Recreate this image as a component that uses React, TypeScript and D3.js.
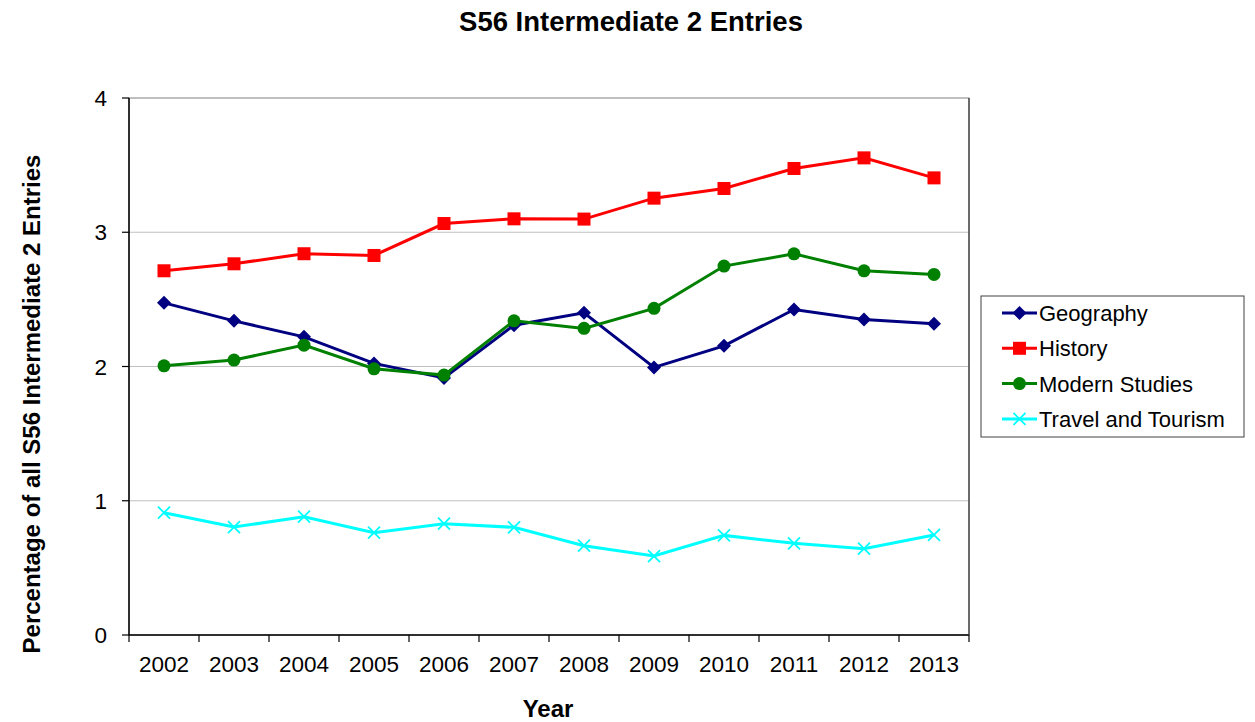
import React from "react";
import * as d3 from "d3";

const years = ["2002","2003","2004","2005","2006","2007","2008","2009","2010","2011","2012","2013"];
const geography = [2.474, 2.34, 2.221, 2.023, 1.915, 2.308, 2.4, 1.993, 2.154, 2.425, 2.35, 2.318];
const history = [2.713, 2.765, 2.84, 2.827, 3.065, 3.1, 3.098, 3.254, 3.326, 3.475, 3.554, 3.405];
const modernStudies = [2.005, 2.048, 2.159, 1.983, 1.936, 2.34, 2.284, 2.433, 2.748, 2.839, 2.713, 2.686];
const travelTourism = [0.911, 0.804, 0.881, 0.762, 0.829, 0.802, 0.665, 0.588, 0.742, 0.683, 0.643, 0.745];
const yTicks = [0, 1, 2, 3, 4];

const seriesNames = ["Geography", "History", "Modern Studies", "Travel and Tourism"];
const seriesColors = ["#000080", "#ff0000", "#008000", "#00ffff"];
const seriesMarkers = ["diamond", "square", "circle", "x"];
const seriesData = [geography, history, modernStudies, travelTourism];

const W = 1255, H = 722;
const L = 129, R = 969, T = 98, B = 635;
const font = "'Liberation Sans', Arial, sans-serif";

function Marker({ type, x, y, color }: { type: string; x: number; y: number; color: string }) {
  if (type === "diamond") {
    const s = 7;
    return <path d={`M${x},${y - s}L${x + s},${y}L${x},${y + s}L${x - s},${y}Z`} fill={color} />;
  }
  if (type === "square") {
    return <rect x={x - 6.5} y={y - 6.5} width={13} height={13} fill={color} />;
  }
  if (type === "circle") {
    return <circle cx={x} cy={y} r={6.5} fill={color} />;
  }
  const s = 6;
  return (
    <path d={`M${x - s},${y - s}L${x + s},${y + s}M${x - s},${y + s}L${x + s},${y - s}`} stroke={color} strokeWidth={1.8} fill="none" />
  );
}

export default function App() {
  const x = d3.scaleBand<string>().domain(years).range([L, R]);
  const y = d3.scaleLinear().domain([0, 4]).range([B, T]);
  const cx = (yr: string) => (x(yr) as number) + x.bandwidth() / 2;
  const line = d3.line<number>().x((_, i) => cx(years[i])).y((d) => y(d));

  const tickXs = years.map((yr) => x(yr) as number).concat([R]);

  return (
    <svg width={W} height={H} style={{ position: "absolute", left: 0, top: 0, background: "#fff" }} fontFamily={font}>
      <rect x={0} y={0} width={W} height={H} fill="#fff" />
      <text x={631} y={31} textAnchor="middle" fontSize={27.5} fontWeight="bold">S56 Intermediate 2 Entries</text>

      {yTicks.filter((t) => t > 0 && t < 4).map((t) => (
        <line key={t} x1={L} x2={R} y1={y(t)} y2={y(t)} stroke="#c0c0c0" strokeWidth={1.2} />
      ))}
      <rect x={L} y={T} width={R - L} height={B - T} fill="none" stroke="#808080" strokeWidth={1} />
      <line x1={L} x2={L} y1={T} y2={B} stroke="#000" strokeWidth={1.5} />
      <line x1={L} x2={R} y1={B} y2={B} stroke="#000" strokeWidth={1.5} />
      <line x1={R} x2={R} y1={T} y2={B} stroke="#333" strokeWidth={1.2} />

      {yTicks.map((t) => (
        <g key={t}>
          <line x1={L - 7} x2={L} y1={y(t)} y2={y(t)} stroke="#000" strokeWidth={1.2} />
          <text x={107} y={y(t) + 8} textAnchor="end" fontSize={22.5}>{t}</text>
        </g>
      ))}
      {tickXs.map((tx, i) => (
        <line key={i} x1={tx} x2={tx} y1={B} y2={B + 7} stroke="#000" strokeWidth={1.2} />
      ))}
      {years.map((yr) => (
        <text key={yr} x={cx(yr)} y={671.5} textAnchor="middle" fontSize={22.5}>{yr}</text>
      ))}

      <text x={548} y={717} textAnchor="middle" fontSize={24} fontWeight="bold">Year</text>
      <text transform={`translate(39.5,404) rotate(-90)`} textAnchor="middle" fontSize={24} fontWeight="bold">
        Percentage of all S56 Intermediate 2 Entries
      </text>

      {seriesData.map((data, si) => (
        <g key={si}>
          <path d={line(data) || ""} fill="none" stroke={seriesColors[si]} strokeWidth={3} />
          {data.map((v, i) => (
            <Marker key={i} type={seriesMarkers[si]} x={cx(years[i])} y={y(v)} color={seriesColors[si]} />
          ))}
        </g>
      ))}

      <rect x={981} y={296} width={263} height={141} fill="#fff" stroke="#404040" strokeWidth={1} />
      {seriesNames.map((n, i) => {
        const ly = 313 + i * 35.3;
        return (
          <g key={n}>
            <line x1={1002} x2={1037} y1={ly} y2={ly} stroke={seriesColors[i]} strokeWidth={3} />
            <Marker type={seriesMarkers[i]} x={1019.5} y={ly} color={seriesColors[i]} />
            <text x={1039} y={ly + 8} fontSize={22}>{n}</text>
          </g>
        );
      })}
    </svg>
  );
}
